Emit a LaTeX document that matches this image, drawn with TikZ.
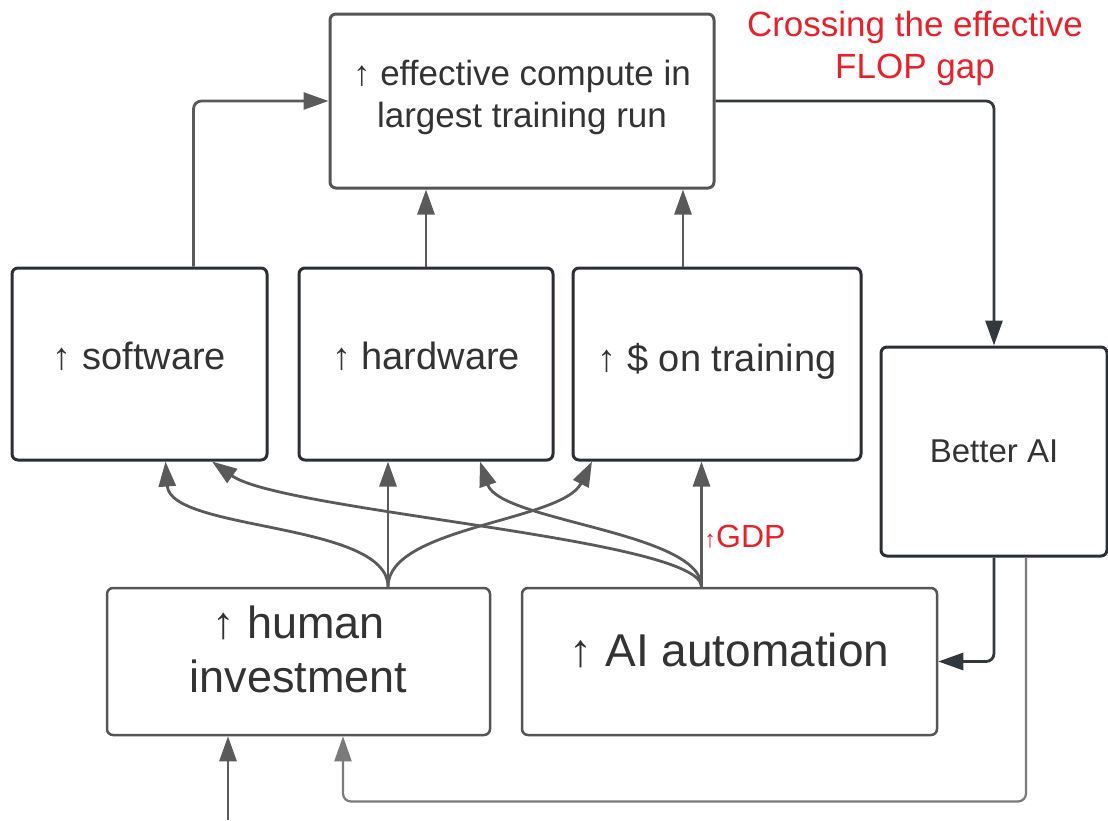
\documentclass[tikz,border=0pt]{standalone}
\usepackage{fontspec}
\setmainfont{Liberation Sans}
\usetikzlibrary{arrows.meta}
\definecolor{boxdark}{HTML}{2B2F33}
\definecolor{boxgray}{HTML}{555555}
\definecolor{textgray}{HTML}{333333}
\definecolor{linkgray}{HTML}{5A5A5A}
\definecolor{darkline}{HTML}{33383D}
\definecolor{loopgray}{HTML}{7A7A7A}
\definecolor{flopred}{HTML}{E8202A}
\newcommand{\fsz}[2]{\fontsize{#1}{#2}\selectfont}
\begin{document}
\begin{tikzpicture}[>={Triangle[length=25pt,width=17pt]},x=1pt,y=-1pt,
    box/.style={draw=boxdark,line width=3pt,rounded corners=6pt,align=center,text=textgray,inner sep=0pt,font=\fsz{38}{46}},
    link/.style={->,draw=linkgray,line width=2.8pt}]
    \useasboundingbox (0,0) rectangle (1108,820);
    % boxes
    \node[box,draw=boxgray,minimum width=384pt,minimum height=174pt,font=\fsz{35}{42},text depth=14pt] (compute) at (522,101) {↑ effective compute in\\largest training run};
    \node[box,minimum width=255pt,minimum height=192pt,text depth=16pt] (software) at (139.5,364) {↑ software};
    \node[box,minimum width=254pt,minimum height=192pt,text depth=16pt] (hardware) at (426,364) {↑ hardware};
    \node[box,minimum width=288pt,minimum height=192pt,text depth=14pt] (money) at (717,364) {↑ \$ on training};
    \node[box,minimum width=226pt,minimum height=209pt,font=\fsz{33}{40}] (better) at (994,451.5) {Better AI};
    \node[box,draw=boxgray,line width=2.5pt,minimum width=383pt,minimum height=147pt,font=\fsz{45}{54},text depth=24pt] (human) at (298.5,661.5) {↑ human\\investment};
    \node[box,draw=boxgray,line width=2.5pt,minimum width=415pt,minimum height=147pt,font=\fsz{46}{55},text depth=24pt] (auto) at (729.5,661.5) {↑ AI automation};
    \node[text=flopred,align=center,font=\fsz{35}{42}] (flop) at (915,48) {Crossing the effective\\FLOP gap};
    \coordinate (source) at (228,820);
    \coordinate (hu) at ([xshift=89.5pt]human.north);
    \coordinate (au) at ([xshift=-28pt]auto.north);
    % into the top box
    \draw[link,rounded corners=8pt] ([xshift=54pt]software.north) |- (compute.west);
    \draw[link] (hardware.north) -- (hardware.north |- compute.south);
    \coordinate (mt) at ([xshift=-34pt]money.north);
    \draw[link] (mt) -- (mt |- compute.south);
    % feedback loop
    \draw[link,draw=darkline,rounded corners=8pt] (compute.east) -| (better.north);
    \draw[link,draw=darkline,rounded corners=8pt] (better.south) |- (auto.east);
    \draw[link,draw=loopgray,line width=2.2pt,rounded corners=8pt] ([xshift=32pt]better.south) -- ++(0,244) -| ([xshift=44.5pt]human.south);
    \draw[link] (source) -- (source |- human.south);
    % from human investment
    \draw[link] (hu) .. controls +(0,-65) and +(5,70) .. ([xshift=26pt]software.south);
    \draw[link] (hu) -- (hu |- hardware.south);
    \draw[link] (hu) .. controls +(0,-60) and +(-30,60) .. ([xshift=-125pt]money.south);
    % from AI automation
    \draw[link] (au) .. controls +(0,-48) and +(70,50) .. ([xshift=72.5pt]software.south);
    \draw[link] (au) .. controls +(0,-55) and +(20,60) .. ([xshift=54pt]hardware.south);
    \draw[link] (au) -- (au |- money.south) node[pos=0.4,right=-2pt,text=flopred,font=\fsz{32}{38}] (gdp) {{\fsz{24}{28}↑}GDP};
\end{tikzpicture}
\end{document}
